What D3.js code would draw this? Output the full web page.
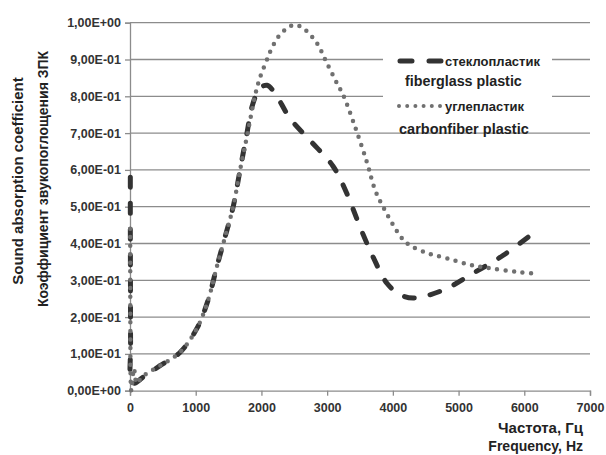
<!DOCTYPE html>
<html lang="en">
<head>
<meta charset="utf-8">
<script src="https://cdn.jsdelivr.net/npm/d3@7"></script>
<style type="text/css">
    body { margin: 0; background: #fff; }
    text { font-family: "Liberation Sans", Arial, sans-serif; font-weight: bold; fill: #222; }
    .grid line { stroke: #8c8c8c; stroke-width: 1.3; }
    .axis path, .axis line { fill: none; stroke: #8c8c8c; stroke-width: 1.3; }
    .axis text { font-size: 12.5px; fill: #333; }
</style>
</head>
<body>
<script>
// frequency (Hz), absorption coefficient
const fiberglass = [
    [5, 0.58], [5, 0.45], [7, 0.3], [9, 0.12], [14, 0.03], [60, 0.02],
    [200, 0.037], [457, 0.068], [760, 0.104], [1020, 0.17], [1190, 0.247],
    [1320, 0.336], [1445, 0.417], [1570, 0.5], [1675, 0.6], [1770, 0.69],
    [1870, 0.78], [1980, 0.822], [2085, 0.83], [2200, 0.81], [2435, 0.74],
    [2740, 0.68], [3090, 0.61], [3300, 0.536], [3500, 0.445], [3700, 0.363],
    [3910, 0.292], [4100, 0.262], [4310, 0.252], [4760, 0.273], [5220, 0.319],
    [5680, 0.368], [6150, 0.43]
];
const carbonfiber = [
    [3, 0.44], [4, 0.3], [6, 0.15], [8, 0.05], [20, 0.0], [60, 0.06],
    [100, 0.02], [150, 0.03], [200, 0.04], [457, 0.068], [760, 0.104],
    [1020, 0.17], [1190, 0.247], [1320, 0.336], [1445, 0.417], [1570, 0.5],
    [1675, 0.6], [1790, 0.7], [1900, 0.8], [1980, 0.852], [2085, 0.9],
    [2130, 0.92], [2250, 0.96], [2390, 0.985], [2510, 0.994], [2635, 0.985],
    [2845, 0.944], [2970, 0.9], [3150, 0.835], [3245, 0.803], [3425, 0.717],
    [3610, 0.618], [3730, 0.545], [3850, 0.5], [3990, 0.455], [4140, 0.414],
    [4260, 0.395], [4520, 0.374], [4820, 0.36], [5170, 0.342], [5480, 0.333],
    [5890, 0.323], [6200, 0.318]
];
const xTicks = [0, 1000, 2000, 3000, 4000, 5000, 6000, 7000];
const yTicks = [0, 0.1, 0.2, 0.3, 0.4, 0.5, 0.6, 0.7, 0.8, 0.9, 1.0];
const yTickLabels = ["0,00E+00", "1,00E-01", "2,00E-01", "3,00E-01", "4,00E-01",
    "5,00E-01", "6,00E-01", "7,00E-01", "8,00E-01", "9,00E-01", "1,00E+00"];
const seriesNames = [["стеклопластик", "fiberglass plastic"], ["углепластик", "carbonfiber plastic"]];
const yTitles = ["Sound absorption coefficient", "Коэффициент звукопоглощения ЗПК"];
const xTitles = ["Частота, Гц", "Frequency, Hz"];

let w = 606;
let h = 455;
let pLeft = 130, pRight = 590, pTop = 22.7, pBottom = 390.7;

let svg = d3.select("body").append("svg")
    .attr("width", w)
    .attr("height", h);

let xScale = d3.scaleLinear().domain([0, 7000]).range([pLeft, pRight]);
let yScale = d3.scaleLinear().domain([0, 1]).range([pBottom, pTop]);

// gridlines
svg.append("g")
    .attr("class", "grid")
    .selectAll("line")
    .data(yTicks.slice(1))
    .enter()
    .append("line")
    .attr("x1", pLeft)
    .attr("x2", pRight)
    .attr("y1", d => yScale(d))
    .attr("y2", d => yScale(d));

let xAxis = d3.axisBottom(xScale).tickValues(xTicks).tickSize(5).tickFormat(d3.format("d"));
let yAxis = d3.axisLeft(yScale).tickValues(yTicks).tickSize(5)
    .tickFormat((d, i) => yTickLabels[i]);

let gx = svg.append("g")
    .attr("class", "axis")
    .attr("transform", "translate(0," + pBottom + ")")
    .call(xAxis);
gx.selectAll("text").attr("dy", "1.05em");

let gy = svg.append("g")
    .attr("class", "axis")
    .attr("transform", "translate(" + pLeft + ",0)")
    .call(yAxis);
gy.selectAll("text").attr("x", -9);

let line = d3.line()
    .x(d => xScale(d[0]))
    .y(d => yScale(d[1]))
    .curve(d3.curveCatmullRom.alpha(0.5));

svg.append("path")
    .datum(fiberglass)
    .attr("d", line)
    .attr("fill", "none")
    .attr("stroke", "#333")
    .attr("stroke-width", 5)
    .attr("stroke-linecap", "round")
    .attr("stroke-dasharray", "10,16");

svg.append("path")
    .datum(carbonfiber)
    .attr("d", line)
    .attr("fill", "none")
    .attr("stroke", "#707070")
    .attr("stroke-width", 4.5)
    .attr("stroke-linecap", "round")
    .attr("stroke-dasharray", "0,8.5");

// legend
let legend = svg.append("g");
legend.append("rect")
    .attr("x", 383).attr("y", 44)
    .attr("width", 169).attr("height", 78)
    .attr("fill", "#fff");

legend.append("line")
    .attr("x1", 400).attr("x2", 441).attr("y1", 61).attr("y2", 61)
    .attr("stroke", "#333").attr("stroke-width", 5)
    .attr("stroke-linecap", "round").attr("stroke-dasharray", "12,17");
legend.append("line")
    .attr("x1", 399).attr("x2", 440).attr("y1", 106).attr("y2", 106)
    .attr("stroke", "#707070").attr("stroke-width", 4)
    .attr("stroke-linecap", "round").attr("stroke-dasharray", "0,8.2");

legend.append("text").attr("x", 445).attr("y", 65.5).attr("font-size", "13px").text(seriesNames[0][0]);
legend.append("text").attr("x", 405).attr("y", 85.5).attr("font-size", "14.3px").text(seriesNames[0][1]);
legend.append("text").attr("x", 445).attr("y", 110.5).attr("font-size", "13px").text(seriesNames[1][0]);
legend.append("text").attr("x", 399).attr("y", 133.5).attr("font-size", "14.5px").text(seriesNames[1][1]);

// axis titles
svg.append("text")
    .attr("transform", "translate(23,181) rotate(-90)")
    .attr("text-anchor", "middle")
    .attr("font-size", "15px")
    .text(yTitles[0]);
svg.append("text")
    .attr("transform", "translate(48,179) rotate(-90)")
    .attr("text-anchor", "middle")
    .attr("font-size", "14px")
    .text(yTitles[1]);

svg.append("text")
    .attr("x", 583).attr("y", 433)
    .attr("text-anchor", "end")
    .attr("font-size", "15px")
    .text(xTitles[0]);
svg.append("text")
    .attr("x", 583).attr("y", 451)
    .attr("text-anchor", "end")
    .attr("font-size", "14px")
    .text(xTitles[1]);
</script>
</body>
</html>
